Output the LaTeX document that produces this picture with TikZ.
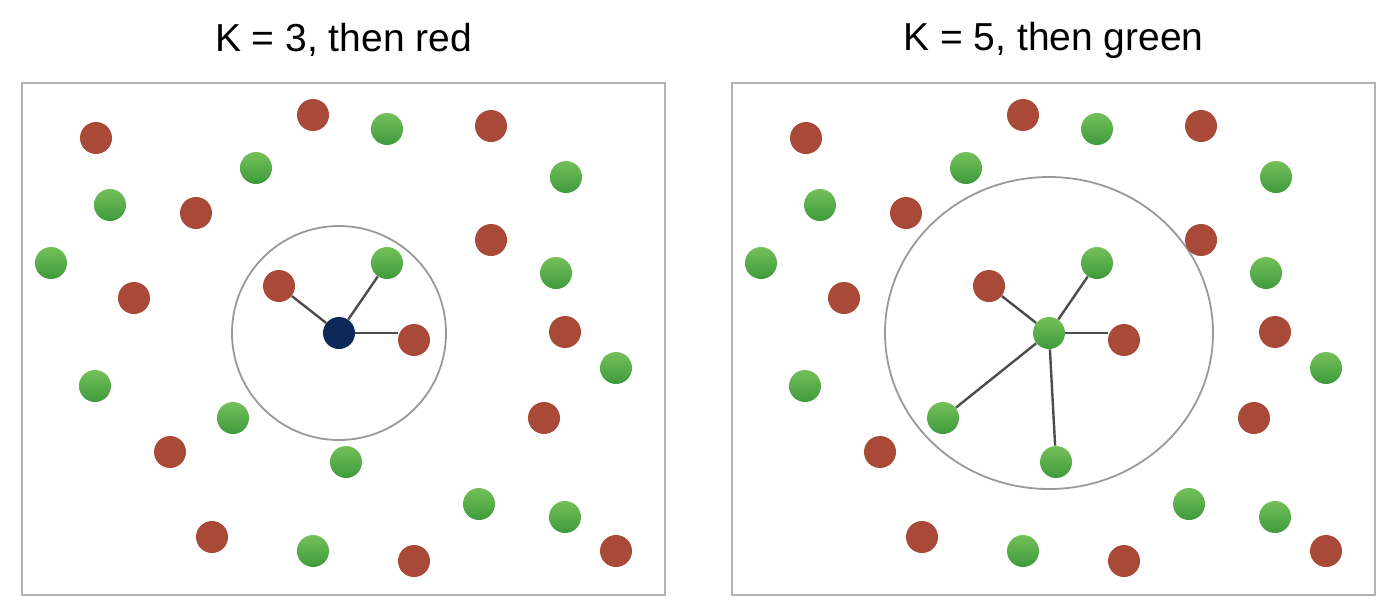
\documentclass[tikz,border=0pt]{standalone}
\usepackage{fontspec}
\setmainfont{Liberation Sans}
\usetikzlibrary{positioning}
\definecolor{dotred}{HTML}{A84A37}
\definecolor{greenhi}{HTML}{74C05A}
\definecolor{greenlo}{HTML}{3E9A3C}
\definecolor{navy}{HTML}{0E2857}

\begin{document}
\begin{tikzpicture}[
  x=0.5pt, y=-0.5pt,
  panel/.style={draw=black!30, line width=1pt},
  title/.style={font=\fontsize{19.5}{23}\selectfont, inner sep=0pt},
  dot/.style={circle, minimum size=16pt, inner sep=0pt},
  reddot/.style={dot, fill=dotred},
  greendot/.style={dot, top color=greenhi, bottom color=greenlo},
  query/.style={dot, fill=navy},
  ring/.style={draw=black!40, line width=0.9pt},
  link/.style={draw=black!70, line width=1.2pt}
]
\useasboundingbox (0,0) rectangle (1400,612);

% the two panels share the same points
\foreach \p/\dx/\cstyle/\rx/\ry/\txt in
  {l/0pt/query/53.5pt/53.5pt/{K = 3, then red},
   r/355pt/greendot/82pt/78pt/{K = 5, then green}} {
  \begin{scope}[xshift=\dx]
    \node[title] (\p-title) at (343.5,40) {\txt};
    \draw[panel] (22,83) rectangle (665,595);
    \coordinate (\p-o) at (339,333);
    \draw[ring] (\p-o) ellipse [x radius=\rx, y radius=\ry];
    \foreach \x/\y [count=\i] in
      {96/138, 313/115, 491/126, 196/213, 491/240, 134/298, 279/286,
       414/340, 565/332, 170/452, 544/418, 212/537, 414/561, 616/551}
      \node[reddot] (\p-r\i) at (\x,\y) {};
    \foreach \x/\y [count=\i] in
      {387/129, 256/168, 566/177, 110/205, 51/263, 387/263, 556/273,
       616/368, 95/386, 233/418, 346/462, 479/504, 565/517, 313/551}
      \node[greendot] (\p-g\i) at (\x,\y) {};
    \node[\cstyle] (\p-c) at (\p-o) {};
  \end{scope}
}

% nearest neighbours
\foreach \n in {r7, g6}
  \draw[link] (l-c) -- (l-\n);
\draw[link] (l-c.east) -- (l-c.east -| l-r8.west);
\foreach \n in {r7, g6, g10, g11}
  \draw[link] (r-c) -- (r-\n);
\draw[link] (r-c.east) -- (r-c.east -| r-r8.west);
\end{tikzpicture}
\end{document}
